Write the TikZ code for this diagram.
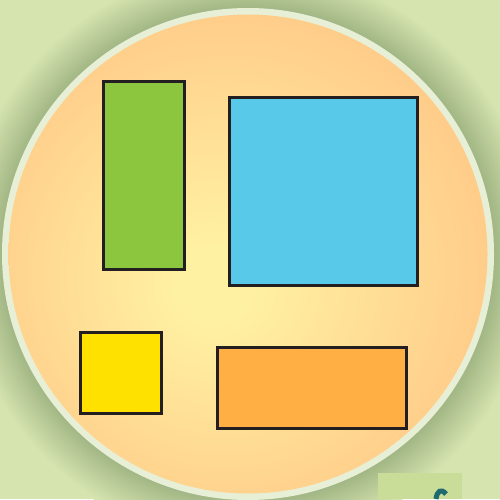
\documentclass[tikz,border=0pt]{standalone}
\definecolor{bgc}{HTML}{D6E4AF}
\definecolor{shadowc}{HTML}{A3B886}
\definecolor{rimc}{HTML}{E7F0D6}
\definecolor{innerc}{HTML}{FFF1A2}
\definecolor{outerc}{HTML}{FFC887}
\definecolor{gbox}{HTML}{8CC63F}
\definecolor{bbox}{HTML}{58C9E8}
\definecolor{ybox}{HTML}{FFE100}
\definecolor{obox}{HTML}{FFAF44}
\definecolor{edgec}{HTML}{231F20}
\definecolor{fragc}{HTML}{C9DC98}
\definecolor{tealc}{HTML}{1F6A6E}
\pgfdeclareradialshading{ringshadow}{\pgfpoint{0bp}{0bp}}{color(0bp)=(shadowc); color(20.5bp)=(shadowc); color(21.3bp)=(shadowc); color(24.8bp)=(bgc); color(50bp)=(bgc)}
\pgfdeclareradialshading{discfill}{\pgfpoint{-4bp}{-3.5bp}}{color(0bp)=(innerc); color(4bp)=(innerc); color(30bp)=(outerc); color(50bp)=(outerc)}
\tikzset{
  panel/.style={draw=edgec, line width=3.4pt, inner sep=0pt, outer sep=0pt, rectangle}
}
\begin{document}
\begin{tikzpicture}[x=1pt,y=-1pt]
\useasboundingbox (0,0) rectangle (500,499);
\fill[bgc] (0,0) rectangle (500,499);
% shadow around disc
\shade[shading=ringshadow] (248,254) circle[radius=290];
% fragment bottom right
\fill[fragc] (378,473) rectangle (462,499);
\draw[tealc, line width=5pt] (436,499) .. controls (437,491) and (441,488) .. (446,494);
% rim and disc
\fill[rimc] (248,254) circle[radius=246];
\shade[shading=discfill] (248,254) circle[radius=239.5];
% panels
\node[panel, fill=gbox, minimum width=81.5pt, minimum height=188.5pt] (green) at (144,175.5) {};
\node[panel, fill=bbox, minimum width=188.5pt, minimum height=188.5pt] (blue) at (323.5,191.5) {};
\node[panel, fill=ybox, minimum width=81.5pt, minimum height=81.5pt] (yellow) at (121,373) {};
\node[panel, fill=obox, minimum width=189.5pt, minimum height=81.5pt] (orange) at (312,388) {};
\end{tikzpicture}
\end{document}
